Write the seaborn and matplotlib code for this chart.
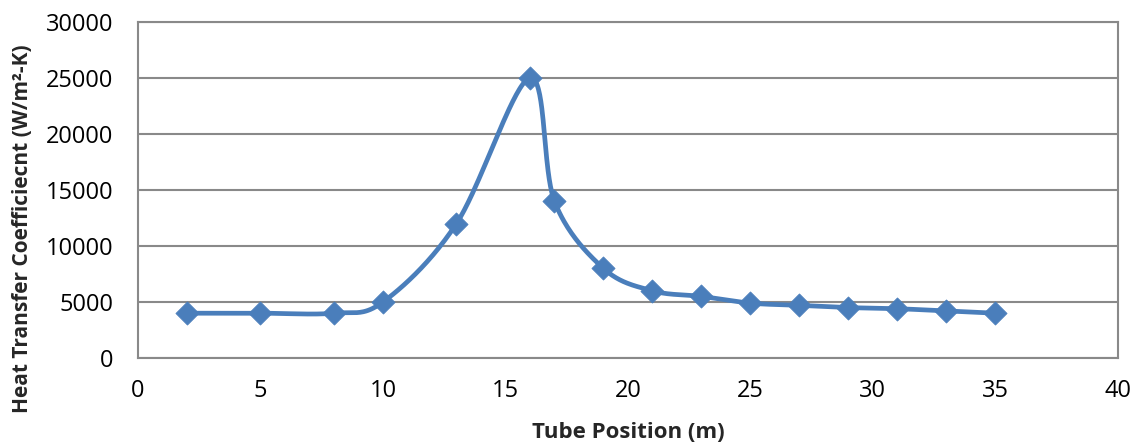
import numpy as np
import pandas as pd
import seaborn as sns
import matplotlib.pyplot as plt

# data
tube_position = [2, 5, 8, 10, 13, 16, 17, 19, 21, 23, 25, 27, 29, 31, 33, 35]
htc = [4000, 4000, 4000, 5000, 12000, 25000, 14000, 8000, 6000, 5500, 4900, 4700, 4500, 4400, 4200, 4000]

x_ticks = [0, 5, 10, 15, 20, 25, 30, 35, 40]
y_ticks = [0, 5000, 10000, 15000, 20000, 25000, 30000]

line_color = '#4A7EBB'
grid_color = '#898989'


def smooth(xs, ys, n=40):
    # excel-style smoothed line (catmull-rom bezier)
    xs = np.asarray(xs, float)
    ys = np.asarray(ys, float)
    px = np.concatenate([[xs[0]], xs, [xs[-1]]])
    py = np.concatenate([[ys[0]], ys, [ys[-1]]])
    out_x, out_y = [], []
    t = np.linspace(0, 1, n)
    for i in range(1, len(px) - 2):
        p0 = np.array([px[i], py[i]])
        p3 = np.array([px[i + 1], py[i + 1]])
        p1 = p0 + (np.array([px[i + 1], py[i + 1]]) - np.array([px[i - 1], py[i - 1]])) / 6
        p2 = p3 - (np.array([px[i + 2], py[i + 2]]) - np.array([px[i], py[i]])) / 6
        b = ((1 - t) ** 3)[:, None] * p0 + (3 * (1 - t) ** 2 * t)[:, None] * p1 \
            + (3 * (1 - t) * t ** 2)[:, None] * p2 + (t ** 3)[:, None] * p3
        out_x.extend(b[:, 0])
        out_y.extend(b[:, 1])
    return out_x, out_y


sns.set_theme(style='white')
plt.rcParams['font.family'] = ['Open Sans', 'DejaVu Sans']

fig = plt.figure(figsize=(11.36, 4.45), dpi=100)
ax = fig.add_axes([0.1215, 0.1955, 0.8625, 0.7551])

sx, sy = smooth(tube_position, htc)
curve = pd.DataFrame({'x': sx, 'y': sy})
pts = pd.DataFrame({'x': tube_position, 'y': htc})

sns.lineplot(data=curve, x='x', y='y', ax=ax, color=line_color, linewidth=3.4,
             sort=False, estimator=None, zorder=3)
sns.scatterplot(data=pts, x='x', y='y', ax=ax, color=line_color, marker='D',
                s=140, edgecolor=line_color, linewidth=0.5, zorder=4)

ax.set_xlim(0, 40)
ax.set_ylim(0, 30000)
ax.set_xticks(x_ticks)
ax.set_yticks(y_ticks)
ax.tick_params(axis='both', labelsize=17, colors='black', length=0)
ax.tick_params(axis='x', pad=15)
ax.tick_params(axis='y', pad=18)
ax.yaxis.grid(True, color=grid_color, linewidth=1.5)
ax.xaxis.grid(False)
for s in ax.spines.values():
    s.set_color(grid_color)
    s.set_linewidth(1.5)

ax.set_xlabel('Tube Position (m)', fontsize=16, fontweight='bold')
ax.set_ylabel('Heat Transfer Coefficiecnt (W/m²-K)', fontsize=15, fontweight='bold')
ax.xaxis.set_label_coords(0.5, -0.19)
ax.yaxis.set_label_coords(-0.107, 0.385)

fig.savefig('out.png', dpi=100)
